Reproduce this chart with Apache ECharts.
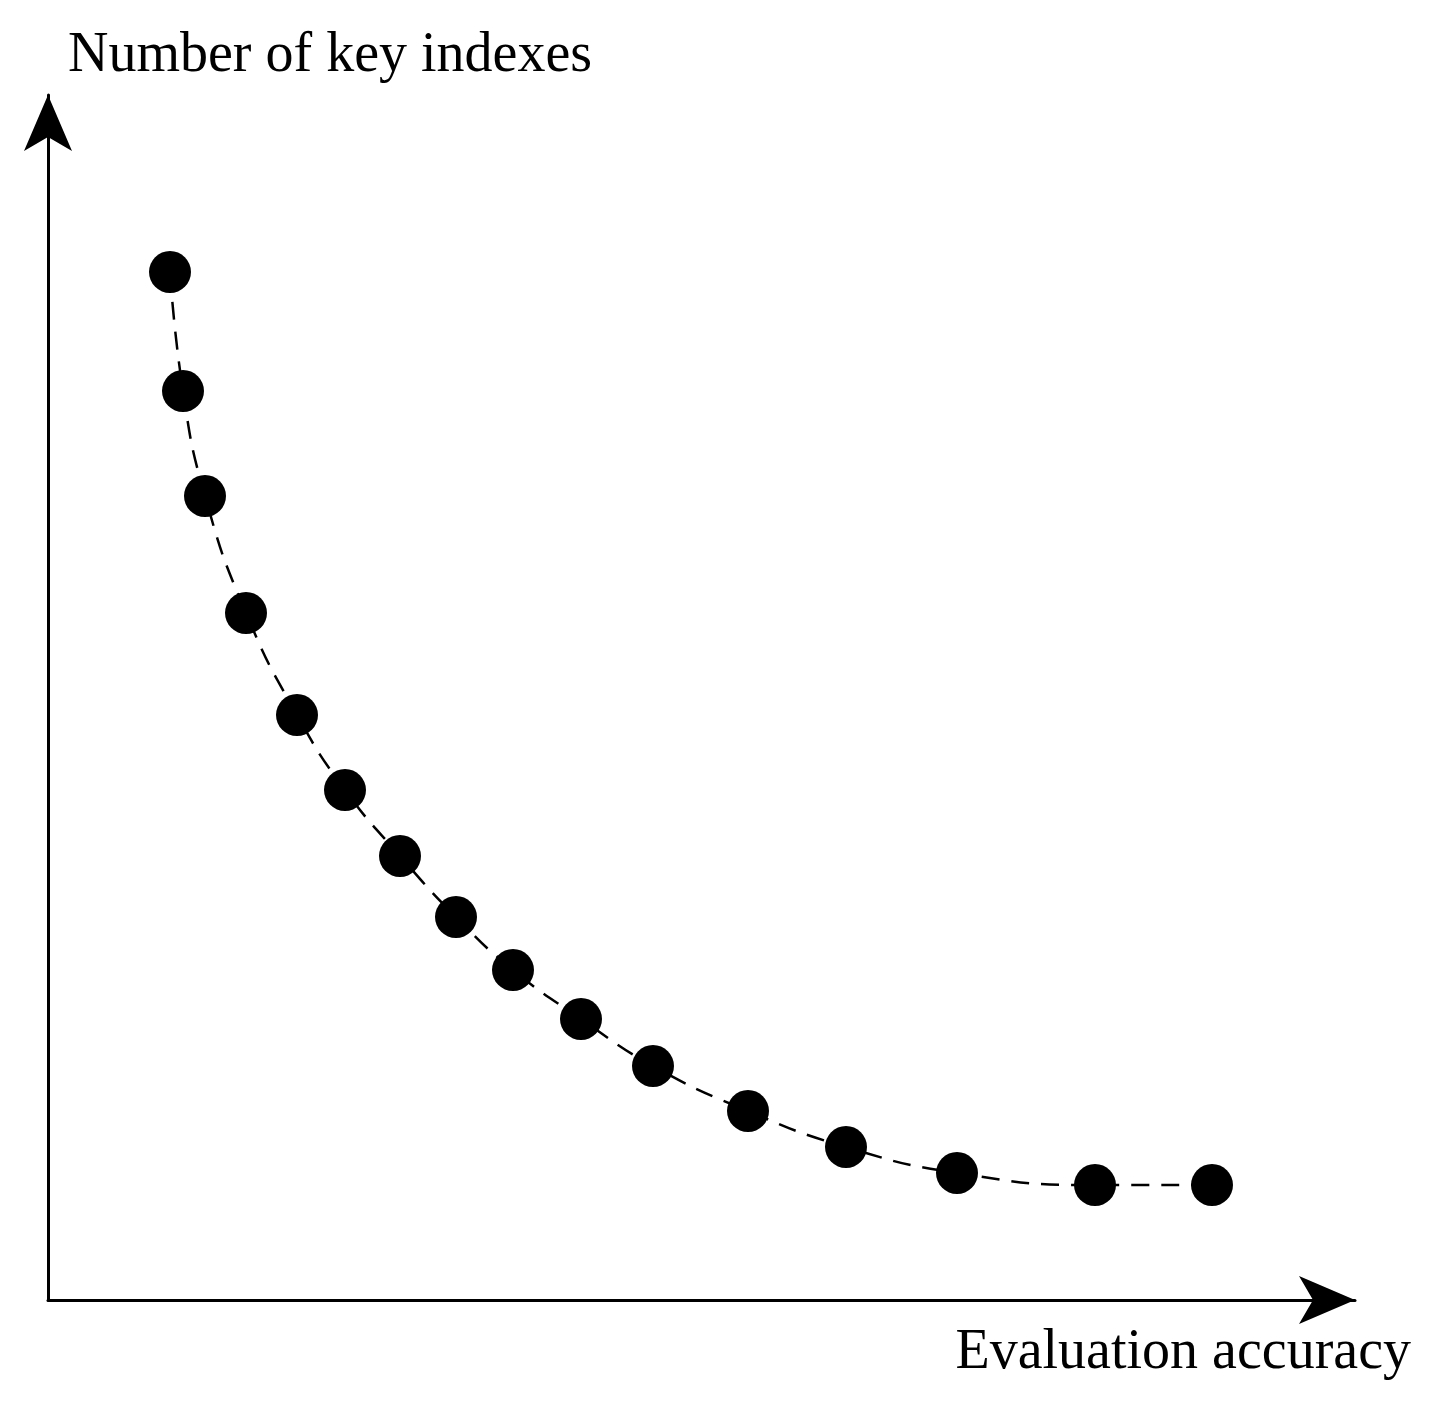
<!DOCTYPE html>
<html><head><meta charset="utf-8">
<script src="https://cdn.jsdelivr.net/npm/echarts@6/dist/echarts.min.js"></script>
<style>html,body{margin:0;background:#fff}#c{width:1429px;height:1415px}</style>
</head><body><div id="c"></div>
<script>
const xVals=[122,135,157,198,249,297,352,408,465,533,605,700,798,909,1047,1164];
const yVals=[1028,909,804,687,585,510,444,383,330,281,234,189,153,127,115,115];
const yTitle="Number of key indexes";
const xTitle="Evaluation accuracy";
const data=xVals.map((x,i)=>[x,yVals[i]]);
const chart=echarts.init(document.getElementById('c'));
const axisCommon={axisTick:{show:false},axisLabel:{show:false},splitLine:{show:false},
 axisLine:{show:true,symbol:['none','arrow'],symbolSize:[36,56],lineStyle:{color:'#000',width:3}}};
chart.setOption({
 animation:false,
 grid:{left:48,top:95,width:1307,height:1205},
 xAxis:Object.assign({type:'value',min:0,max:1307},axisCommon),
 yAxis:Object.assign({type:'value',min:0,max:1205},axisCommon),
 graphic:[
  {type:'text',left:68,top:28,style:{text:yTitle,font:'56px "Liberation Serif"',fill:'#000'}},
  {type:'text',right:18,top:1325,style:{text:xTitle,font:'56px "Liberation Serif"',fill:'#000'}}
 ],
 series:[{type:'line',data:data,smooth:0.5,symbol:'circle',symbolSize:42,
  itemStyle:{color:'#000'},lineStyle:{color:'#000',width:2.5,type:[18,12]}}]
});
</script></body></html>
